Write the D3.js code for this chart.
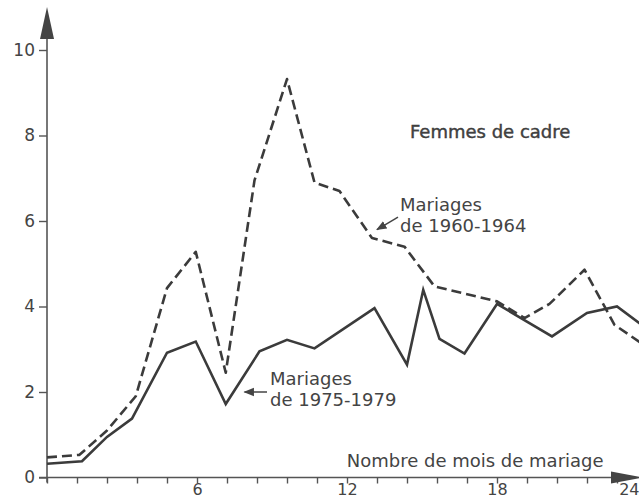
<!DOCTYPE html>
<meta charset="utf-8">
<style>
 body { margin: 0; background: white; }
 svg { display: block; }
 text { font-family: 'DejaVu Sans', sans-serif; fill: #444; }
</style>
<svg width="639" height="499"></svg>
<script src="https://d3js.org/d3.v7.min.js"></script>
<script>
 // months since marriage vs rate
 var monthsSolid = [0, 1.4, 2.4, 3.4, 4.8, 5.95, 7.15, 8.5, 9.6, 10.7, 13.1, 14.4, 15.05, 15.7, 16.7, 18.0, 20.2, 21.6, 22.8, 24];
 var valuesSolid = [0.32, 0.38, 0.95, 1.38, 2.92, 3.18, 1.72, 2.95, 3.22, 3.02, 3.96, 2.64, 4.39, 3.24, 2.9, 4.06, 3.3, 3.85, 4.0, 3.48];

 var monthsDashed = [0, 1.3, 2.4, 3.55, 4.8, 5.95, 7.15, 8.3, 9.6, 10.7, 11.7, 13.0, 14.3, 15.5, 18.0, 19.1, 20.1, 21.5, 22.7, 24];
 var valuesDashed = [0.47, 0.53, 1.1, 1.9, 4.43, 5.28, 2.45, 6.95, 9.32, 6.9, 6.7, 5.6, 5.4, 4.47, 4.12, 3.73, 4.06, 4.86, 3.57, 3.05];

 var yTicks = [0, 2, 4, 6, 8, 10];
 var xLabels = {5: '6', 10: '12', 15: '18', 20: '24'};   // every 5th small tick carries a label
 var xTickCount = 20;

 var svg = d3.select('svg');
 var x = d3.scaleLinear().domain([0, 24]).range([47, 647]);
 var y = d3.scaleLinear().domain([0, 10]).range([477.5, 50]);
 var ink = '#3b3b3b';

 function zip(ms, vs) { return ms.map(function(m, i) { return [m, vs[i]]; }); }

 // axes
 var xTickVals = d3.range(xTickCount + 1).map(function(i) { return i * 24 / xTickCount; });
 var gx = svg.append('g').attr('transform', 'translate(0,' + y(0) + ')')
     .call(d3.axisBottom(x).tickValues(xTickVals).tickSize(6).tickPadding(0)
           .tickFormat(function(d, i) { return xLabels[i] || ''; }));
 gx.select('.domain').remove();
 gx.selectAll('line').attr('stroke', '#555').attr('stroke-width', 1.4);
 gx.selectAll('text').attr('font-size', 16).attr('fill', '#444');
 // last label sits under the arrow head, pulled inside the frame
 gx.selectAll('.tick').filter(function(d, i) { return i === xTickCount; })
   .select('text').attr('text-anchor', 'end').attr('x', 639 - x(24));

 var gy = svg.append('g').attr('transform', 'translate(' + x(0) + ',0)')
     .call(d3.axisLeft(y).tickValues(yTicks).tickSize(8).tickPadding(4));
 gy.select('.domain').remove();
 gy.selectAll('line').attr('stroke', '#555').attr('stroke-width', 1.4);
 gy.selectAll('text').attr('font-size', 17).attr('fill', '#444');

 // axis lines with arrow heads
 svg.append('line').attr('x1', x(0)).attr('x2', x(0)).attr('y1', y(0) + 5).attr('y2', 20)
    .attr('stroke', '#555').attr('stroke-width', 1.6);
 svg.append('line').attr('x1', x(0) - 8).attr('x2', 630).attr('y1', y(0)).attr('y2', y(0))
    .attr('stroke', '#555').attr('stroke-width', 1.6);
 svg.append('path')
    .attr('d', 'M' + x(0) + ',7L' + (x(0) + 7) + ',39L' + (x(0) - 7) + ',39Z')
    .attr('fill', '#444');
 svg.append('path')
    .attr('d', 'M643,' + y(0) + 'L611,' + (y(0) - 6) + 'L611,' + (y(0) + 6) + 'Z')
    .attr('fill', '#444');

 // series
 var line = d3.line().x(function(d) { return x(d[0]); }).y(function(d) { return y(d[1]); });
 svg.append('path').datum(zip(monthsDashed, valuesDashed)).attr('d', line)
    .attr('fill', 'none').attr('stroke', ink).attr('stroke-width', 2.6)
    .attr('stroke-dasharray', '10,5').attr('stroke-linejoin', 'round');
 svg.append('path').datum(zip(monthsSolid, valuesSolid)).attr('d', line)
    .attr('fill', 'none').attr('stroke', ink).attr('stroke-width', 2.6)
    .attr('stroke-linejoin', 'miter');

 // annotations
 svg.append('defs').append('marker').attr('id', 'ah')
    .attr('viewBox', '0 0 10 10').attr('refX', 9).attr('refY', 5)
    .attr('markerWidth', 7).attr('markerHeight', 7).attr('orient', 'auto')
    .append('path').attr('d', 'M0,1L10,5L0,9Z').attr('fill', '#444');

 function label(mx, vy, lines, size) {
     var t = svg.append('text').attr('x', x(mx)).attr('y', y(vy)).attr('font-size', size || 18);
     lines.forEach(function(s, i) {
         t.append('tspan').attr('x', x(mx)).attr('dy', i ? 21 : 0).text(s);
     });
     return t;
 }
 label(14.52, 7.94, ['Femmes de cadre']).attr('fill', '#333').attr('stroke', '#333').attr('stroke-width', 0.4);
 label(14.12, 6.23, ['Mariages', 'de 1960-1964']);
 label(8.92, 2.17, ['Mariages', 'de 1975-1979']);
 label(11.99, 0.25, ['Nombre de mois de mariage']);

 svg.append('line').attr('x1', x(14.04)).attr('y1', y(6.09)).attr('x2', x(13.2)).attr('y2', y(5.8))
    .attr('stroke', '#444').attr('stroke-width', 1.5).attr('marker-end', 'url(#ah)');
 svg.append('line').attr('x1', x(8.8)).attr('y1', y(2.0)).attr('x2', x(7.9)).attr('y2', y(2.0))
    .attr('stroke', '#444').attr('stroke-width', 1.5).attr('marker-end', 'url(#ah)');
</script>
